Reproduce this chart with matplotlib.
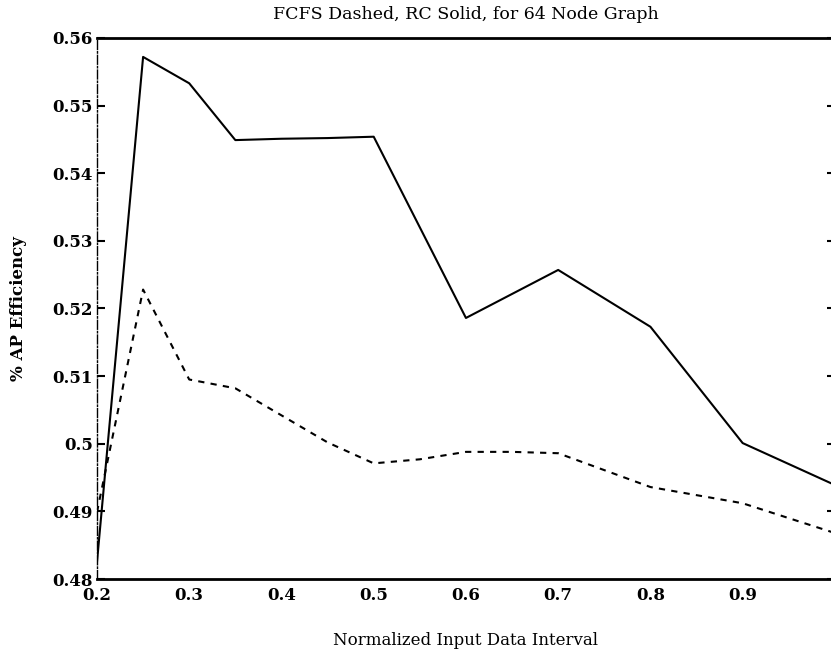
import matplotlib.pyplot as plt
import numpy as np

# RC (solid) and FCFS (dashed) efficiency vs. normalized input data interval
rc_x = [0.2, 0.25, 0.3, 0.35, 0.4, 0.45, 0.5, 0.6, 0.7, 0.8, 0.9, 1.0]
rc_y = [0.4825, 0.5572, 0.5533, 0.5449, 0.5451, 0.5452, 0.5454, 0.5186, 0.5257, 0.5173, 0.5001, 0.4939]

fcfs_x = [0.2, 0.25, 0.3, 0.35, 0.4, 0.45, 0.5, 0.55, 0.6, 0.65, 0.7, 0.8, 0.9, 1.0]
fcfs_y = [0.4899, 0.5228, 0.5095, 0.5082, 0.5042, 0.5002, 0.4971, 0.4977, 0.4988, 0.4988, 0.4986, 0.4936, 0.4912, 0.4868]

x_ticks = [0.2, 0.3, 0.4, 0.5, 0.6, 0.7, 0.8, 0.9]
y_ticks = [0.48, 0.49, 0.5, 0.51, 0.52, 0.53, 0.54, 0.55, 0.56]

plt.rcParams['font.family'] = ['DejaVu Serif']

fig = plt.figure(figsize=(8.31, 6.57), dpi=100)
ax = fig.add_axes([0.1167, 0.1187, 0.888, 0.8235])

ax.plot(rc_x, rc_y, color='black', linewidth=1.5, linestyle='-')
ax.plot(fcfs_x, fcfs_y, color='black', linewidth=1.5, linestyle=(0, (3, 3)))

ax.set_xlim(0.2, 1.0)
ax.set_ylim(0.48, 0.56)
ax.set_xticks(x_ticks)
ax.set_xticklabels(['0.2', '0.3', '0.4', '0.5', '0.6', '0.7', '0.8', '0.9'])
ax.set_yticks(y_ticks)
ax.set_yticklabels(['0.48', '0.49', '0.5', '0.51', '0.52', '0.53', '0.54', '0.55', '0.56'])

ax.tick_params(axis='both', direction='in', length=6, width=1.5, labelsize=12, pad=3)
ax.tick_params(axis='y', right=True)
ax.tick_params(axis='x', length=0, pad=6)
for lab in ax.get_xticklabels() + ax.get_yticklabels():
    lab.set_fontweight('bold')

# scanned look: heavy top/bottom frame, thin broken left edge
ax.spines['top'].set_linewidth(2)
ax.spines['bottom'].set_linewidth(2)
ax.spines['left'].set_linewidth(1)
ax.spines['left'].set_linestyle('-.')
ax.spines['right'].set_linewidth(1.5)

ax.set_title('FCFS Dashed, RC Solid, for 64 Node Graph', fontsize=12.5, pad=14)
ax.set_xlabel('Normalized Input Data Interval', fontsize=12, labelpad=20)
ax.set_ylabel('% AP Efficiency', fontsize=12, fontweight='bold', labelpad=18)

fig.savefig('out.png', dpi=100)
